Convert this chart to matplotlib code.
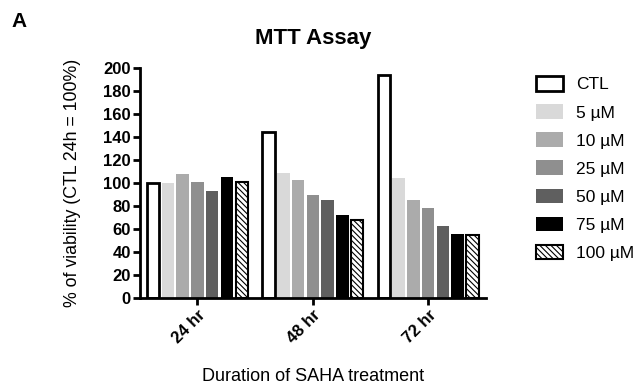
import matplotlib.pyplot as plt
import numpy as np

# data
durations = ["24 hr", "48 hr", "72 hr"]
labels = ["CTL", "5 µM", "10 µM", "25 µM", "50 µM", "75 µM", "100 µM"]
ctl = [100, 144, 194]
um5 = [100, 109, 104]
um10 = [108, 103, 85]
um25 = [101, 90, 78]
um50 = [93, 85, 63]
um75 = [105, 72, 56]
um100 = [101, 68, 55]
series = [ctl, um5, um10, um25, um50, um75, um100]

faces = ["white", "#d9d9d9", "#ababab", "#8f8f8f", "#5f5f5f", "black", "white"]
edges = ["black", "#d9d9d9", "#ababab", "#8f8f8f", "#5f5f5f", "black", "black"]
hatches = [None, None, None, None, None, None, "\\\\\\\\\\\\"]
lws = [2, 0, 0, 0, 0, 0, 1.5]

plt.rcParams['font.family'] = ['Liberation Sans', 'DejaVu Sans']
plt.rcParams['hatch.linewidth'] = 0.8

fig = plt.figure(figsize=(6.41, 3.89), dpi=100)
ax = fig.add_axes([0.218, 0.234, 0.54, 0.591])

x = np.arange(len(durations))
slot = 0.128
w = 0.108
for i, vals in enumerate(series):
    off = (i - 3) * slot
    ax.bar(x + off, vals, width=w, color=faces[i], edgecolor=edges[i],
           hatch=hatches[i], linewidth=lws[i], label=labels[i])

ax.set_xlim(-0.5, 2.5)
ax.set_ylim(0, 200)
ax.set_yticks(range(0, 201, 20))
ax.set_xticks(x)
ax.set_xticklabels(durations, rotation=45, fontweight='bold', fontsize=12,
                   ha='right', rotation_mode='anchor')
for t in ax.get_yticklabels():
    t.set_fontweight('bold')
    t.set_fontsize(12)
for s in ["top", "right"]:
    ax.spines[s].set_visible(False)
for s in ["left", "bottom"]:
    ax.spines[s].set_linewidth(2)
ax.tick_params(width=2, length=5, pad=1.5)

ax.set_title("MTT Assay", fontweight='bold', fontsize=16, pad=17)
ax.set_ylabel("% of viability (CTL 24h = 100%)", fontsize=12.8, labelpad=16)
ax.set_xlabel("Duration of SAHA treatment", fontsize=13, labelpad=16)

ax.legend(loc='upper left', bbox_to_anchor=(1.145, 0.965), frameon=False,
          fontsize=12.5, handlelength=1.55, handleheight=0.92, labelspacing=0.68,
          handletextpad=0.75, borderpad=0, borderaxespad=0)

fig.text(0.018, 0.93, "A", fontweight='bold', fontsize=15)

fig.savefig("out.png", dpi=100)
